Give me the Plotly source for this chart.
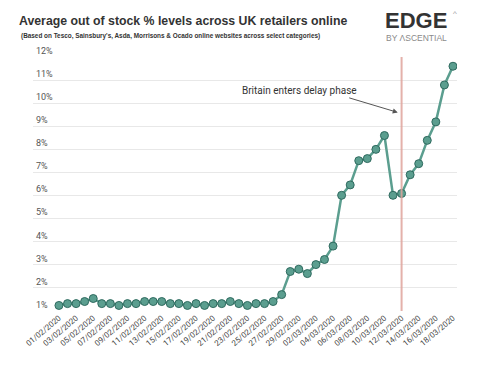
import datetime as dt
import plotly.graph_objects as go

# ---- data ----
start = dt.date(2020, 2, 1)
dates = [(start + dt.timedelta(days=i)).strftime("%d/%m/%Y") for i in range(47)]
oos_pct = [
    1.24, 1.32, 1.32, 1.41, 1.54, 1.32, 1.32, 1.24, 1.32, 1.32,
    1.41, 1.41, 1.41, 1.32, 1.32, 1.24, 1.32, 1.24, 1.32, 1.32,
    1.41, 1.32, 1.24, 1.32, 1.32, 1.41, 1.71, 2.71, 2.81, 2.62,
    3.01, 3.23, 3.81, 6.01, 6.46, 7.51, 7.60, 8.00, 8.60, 6.01,
    6.09, 6.90, 7.38, 8.39, 9.19, 10.79, 11.60,
]
tick_labels = dates[::2]
y_ticks = list(range(1, 13))
y_tick_text = [f"{v}%" for v in y_ticks]
event_date = "12/03/2020"
event_text = "Britain enters delay phase"
title = "Average out of stock % levels across UK retailers online"
subtitle = "(Based on Tesco, Sainsbury's, Asda, Morrisons & Ocado online websites across select categories)"

W, H = 480, 371
L, R, T, B = 33, 23, 57, 60
PW, PH = W - L - R, H - T - B


def px2paper(px, py):
    return (px - L) / PW, (H - B - py) / PH


fig = go.Figure()
fig.add_trace(go.Scatter(
    x=dates, y=oos_pct, mode="lines+markers",
    line=dict(color="#5b9e8f", width=2.5),
    marker=dict(size=8, color="#5b9e8f", line=dict(color="#2f6a5f", width=1)),
    hoverinfo="skip", showlegend=False,
))

ev_idx = dates.index(event_date)
fig.add_shape(type="line", xref="x", yref="y", x0=ev_idx, x1=ev_idx, y0=1, y1=12,
              line=dict(color="#e0a49c", width=2), layer="above", opacity=0.85)

# arrow
fig.add_annotation(x=ev_idx - 0.45, y=9.6, xref="x", yref="y", text="",
                   showarrow=True, ax=-50, ay=-15, arrowhead=2, arrowsize=1,
                   arrowwidth=1, arrowcolor="#555555")
fig.add_annotation(x=28.1, y=10.55, xref="x", yref="y", text=event_text,
                   showarrow=False, font=dict(family="Roboto", size=10, color="#333333"))


def add_text(px, py, text, size, color, family="Liberation Sans"):
    x, y = px2paper(px, py)
    fig.add_annotation(x=x, y=y, xref="paper", yref="paper", text=text,
                       showarrow=False, xanchor="left", yanchor="middle",
                       font=dict(family=family, size=size, color=color))


# titles
add_text(17, 21, f"<b>{title}</b>", 12.3, "#333333")
add_text(19, 36, f"<b>{subtitle}</b>", 6.4, "#333333")
# logo text
add_text(383, 20, "<b>EDGE</b>", 22, "#333333")
add_text(451, 13, "^", 8, "#999999")
add_text(384, 38, "BY ΛSCENTIAL", 8.5, "#8a8a8a")

fig.update_layout(
    width=W, height=H,
    margin=dict(l=L, r=R, t=T, b=B),
    paper_bgcolor="white", plot_bgcolor="white",
    xaxis=dict(type="category", range=[-3.03, 46.47], tickmode="array",
               tickvals=tick_labels, ticktext=tick_labels, tickangle=-40,
               showgrid=False, zeroline=False, showline=False, ticks="",
               automargin=False,
               tickfont=dict(family="Roboto", size=8, color="#444444")),
    yaxis=dict(range=[1, 12], tickmode="array", tickvals=y_ticks, ticktext=y_tick_text,
               ticklabelposition="inside top", ticklabeloverflow="allow",
               showgrid=True, gridcolor="#e8e8e8", gridwidth=1,
               zeroline=False, showline=False, ticks="", automargin=False,
               tickfont=dict(family="Roboto", size=9, color="#555555")),
    font=dict(family="Roboto"),
)

fig.write_html("out.html", config={"displayModeBar": False},
               post_script="document.body.style.margin='0';document.body.style.overflow='hidden';")
